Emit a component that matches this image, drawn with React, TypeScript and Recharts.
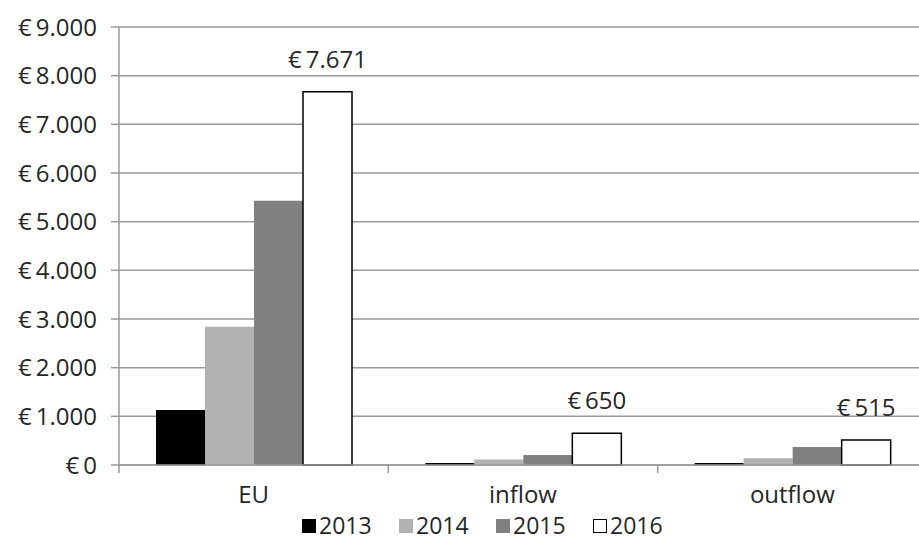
import React from "react";
import { Bar, BarChart, CartesianGrid, LabelList, Legend, XAxis, YAxis } from "recharts";

const categories = ["EU", "inflow", "outflow"];
const years = ["2013", "2014", "2015", "2016"];
const v2013 = [1130, 40, 40];
const v2014 = [2840, 115, 140];
const v2015 = [5430, 205, 370];
const v2016 = [7671, 650, 515];
const yTicks = [0, 1000, 2000, 3000, 4000, 5000, 6000, 7000, 8000, 9000];

const fills = ["#000000", "#b2b2b2", "#808080", "#ffffff"];
const FONT = "'Open Sans', sans-serif";
const FS = 24;
const TEXT = "#262626";
const GRID = "#9a9a9a";

const W = 927;
const H = 542;
const LEFT = 119;
const PLOT_BOTTOM = 465;
const BAND = (W - LEFT) / categories.length;

const rows = categories.map((name, i) => ({
  name,
  y2013: v2013[i],
  y2014: v2014[i],
  y2015: v2015[i],
  y2016: v2016[i],
}));

const euro = (v: number) => "€\u2009" + String(v).replace(/\B(?=(\d{3})+(?!\d))/g, ".");

// Excel-style category axis: labels centred, tick marks on the band edges
function CategoryTick(props: any) {
  const { x, y, payload } = props;
  return (
    <g>
      <line x1={x - BAND / 2} x2={x - BAND / 2} y1={PLOT_BOTTOM} y2={PLOT_BOTTOM + 8} stroke={GRID} strokeWidth={1.5} />
      <text x={x} y={y} dy="0.71em" textAnchor="middle" fill={TEXT} fontSize={FS} fontFamily={FONT}>
        {payload.value}
      </text>
    </g>
  );
}

function TopLabel(props: any) {
  const { x, y, width, value } = props;
  return (
    <text x={x + width / 2} y={y - 24} textAnchor="middle" fill={TEXT} fontSize={FS} fontFamily={FONT}>
      {euro(value)}
    </text>
  );
}

function YearLegend() {
  return (
    <div
      style={{
        display: "flex",
        paddingLeft: 302,
        height: 31,
        fontFamily: FONT,
        fontSize: 23,
        color: TEXT,
        lineHeight: "31px",
      }}
    >
      {years.map((yr, i) => (
        <div key={yr} style={{ width: 97, height: 31, display: "flex", alignItems: "center" }}>
          <span
            style={{
              width: i === 3 ? 12 : 14,
              height: i === 3 ? 12 : 14,
              background: fills[i],
              border: i === 3 ? "1px solid #000" : "none",
              marginRight: 3,
              display: "inline-block",
            }}
          />
          <span>{yr}</span>
        </div>
      ))}
    </div>
  );
}

export default function App() {
  return (
    <div style={{ position: "fixed", left: 0, top: 0, width: 919, height: 542, overflow: "hidden", background: "#fff" }}>
      <BarChart
        width={W}
        height={H}
        data={rows}
        margin={{ top: 27, right: 0, left: 0, bottom: 1 }}
        barGap={0}
        barSize={49}
      >
        <CartesianGrid stroke={GRID} strokeWidth={1.5} vertical={false} />
        <XAxis
          dataKey="name"
          height={45}
          tick={<CategoryTick />}
          tickLine={false}
          tickSize={8}
          tickMargin={13}
          axisLine={{ stroke: GRID, strokeWidth: 1.5 }}
        />
        <YAxis
          width={LEFT}
          domain={[0, 9000]}
          ticks={yTicks}
          interval={0}
          tickFormatter={euro}
          tickSize={8}
          tickMargin={14}
          tick={{ fill: TEXT, fontSize: FS, fontFamily: FONT }}
          tickLine={{ stroke: GRID, strokeWidth: 1.5 }}
          axisLine={{ stroke: GRID, strokeWidth: 1.5 }}
        />
        <Legend verticalAlign="bottom" content={<YearLegend />} />
        <Bar dataKey="y2013" name="2013" fill={fills[0]} isAnimationActive={false} />
        <Bar dataKey="y2014" name="2014" fill={fills[1]} isAnimationActive={false} />
        <Bar dataKey="y2015" name="2015" fill={fills[2]} isAnimationActive={false} />
        <Bar dataKey="y2016" name="2016" fill={fills[3]} stroke="#000" strokeWidth={1.5} isAnimationActive={false}>
          <LabelList dataKey="y2016" content={<TopLabel />} />
        </Bar>
      </BarChart>
    </div>
  );
}
